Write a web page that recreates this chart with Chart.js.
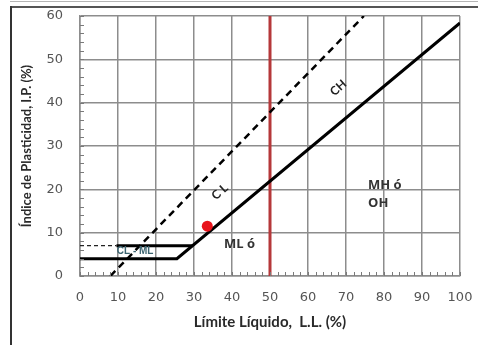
<!DOCTYPE html>
<html>
<head>
<meta charset="utf-8">
<script src="https://cdn.jsdelivr.net/npm/chart.js@4.4.1/dist/chart.umd.min.js"></script>
<style>
  body { margin: 0; background: #fff; }
  #wrap { position: relative; width: 478px; height: 345px; overflow: hidden; }
  .ln { position: absolute; }
</style>
</head>
<body>
<div id="wrap">
  <canvas id="myChart" width="478" height="345"></canvas>
  <div class="ln" style="left:10px;top:1px;width:468px;height:1px;background:#b5b5b5"></div>
  <div class="ln" style="left:10px;top:6px;width:468px;height:2px;background:#555"></div>
  <div class="ln" style="left:10px;top:6px;width:2px;height:339px;background:#333"></div>
</div>
<script>
// línea A: IP = 0.73 (LL - 20), con tramo horizontal IP = 4
const aLineLL = [0, 25.5, 100];
const aLineIP = [4, 4, 58.4];

// tramo horizontal IP = 7 (zona CL - ML)
const topLL = [9.6, 29.6];
const topIP = [7, 7];
const topDashLL = [0, 9.6];
const topDashIP = [7, 7];

// línea U: IP = 0.9 (LL - 8)
const uLineLL = [8, 74.7];
const uLineIP = [0, 60];

// límite líquido = 50
const llFiftyLL = [50, 50];
const llFiftyIP = [0, 60];

// muestra
const sampleLL = [33.5];
const sampleIP = [11.5];

const xTicks = [0, 10, 20, 30, 40, 50, 60, 70, 80, 90, 100];
const yTicks = [0, 10, 20, 30, 40, 50, 60];

const zoneText = ['CH', 'CL', 'CL - ML', 'ML ó', 'MH ó', 'OH'];
const zoneLL = [68, 36.8, 14.5, 42, 75.8, 75.8];
const zoneIP = [43.4, 19.4, 5.8, 7.3, 21, 16.8];

const pts = (xs, ys) => xs.map((x, i) => ({ x: x, y: ys[i] }));

const ctx = document.querySelector('#myChart');

const minorTicks = {
  id: 'minorTicks',
  afterDatasetsDraw(chart) {
    const c = chart.ctx;
    const xs = chart.scales.x;
    const ys = chart.scales.y;
    c.save();
    c.strokeStyle = '#7a7a7a';
    c.lineWidth = 1;
    c.beginPath();
    for (let v = 0; v <= 100; v += 2) {
      const px = Math.round(xs.getPixelForValue(v)) + 0.5;
      c.moveTo(px, ys.bottom);
      c.lineTo(px, ys.bottom - 4);
    }
    for (let v = 0; v <= 60; v += 2) {
      const py = Math.round(ys.getPixelForValue(v)) + 0.5;
      c.moveTo(xs.left, py);
      c.lineTo(xs.left + 4, py);
    }
    c.stroke();
    c.restore();
  }
};

const zoneLabels = {
  id: 'zoneLabels',
  afterDatasetsDraw(chart) {
    const c = chart.ctx;
    const xs = chart.scales.x;
    const ys = chart.scales.y;
    c.save();
    zoneText.forEach((t, i) => {
      const px = xs.getPixelForValue(zoneLL[i]);
      const py = ys.getPixelForValue(zoneIP[i]);
      c.save();
      c.translate(px, py);
      c.textBaseline = 'middle';
      if (t === 'CH' || t === 'CL') {
        c.rotate(-42 * Math.PI / 180);
        c.textAlign = 'center';
        c.font = 'bold 12px Lato';
        c.fillStyle = '#222';
        c.fillText(t === 'CL' ? 'C L' : t, 0, 0);
      } else if (t === 'CL - ML') {
        c.textAlign = 'center';
        c.font = 'bold 10px "Liberation Sans"';
        c.fillStyle = '#3c6470';
        c.fillText(t, 0, 0);
      } else if (t === 'ML ó') {
        c.textAlign = 'center';
        c.font = 'bold 13px "Open Sans"';
        c.fillStyle = '#333';
        c.fillText(t, 0, 0);
      } else {
        c.textAlign = 'left';
        c.font = 'bold 13px "Open Sans"';
        c.fillStyle = '#333';
        c.fillText(t, 0, 0);
      }
      c.restore();
    });
    c.restore();
  }
};

// sin relleno extra por las etiquetas de los extremos
const noPad = (s) => {
  s.paddingLeft = 0;
  s.paddingRight = 0;
  s.paddingTop = 0;
  s.paddingBottom = 0;
};

const config = {
  type: 'scatter',
  data: {
    datasets: [
      {
        label: 'Muestra',
        data: pts(sampleLL, sampleIP),
        pointRadius: 5.5,
        pointBackgroundColor: '#e8141c',
        pointBorderWidth: 0,
        showLine: false
      },
      {
        label: 'Línea A',
        data: pts(aLineLL, aLineIP),
        showLine: true,
        borderColor: '#000',
        borderWidth: 3,
        pointRadius: 0
      },
      {
        label: 'IP 7',
        data: pts(topLL, topIP),
        showLine: true,
        borderColor: '#000',
        borderWidth: 3,
        pointRadius: 0
      },
      {
        label: 'IP 7 trazos',
        data: pts(topDashLL, topDashIP),
        showLine: true,
        borderColor: '#222',
        borderWidth: 1.3,
        borderDash: [4, 3],
        pointRadius: 0
      },
      {
        label: 'Línea U',
        data: pts(uLineLL, uLineIP),
        showLine: true,
        borderColor: '#000',
        borderWidth: 2.5,
        borderDash: [7, 5],
        pointRadius: 0
      },
      {
        label: 'LL 50',
        data: pts(llFiftyLL, llFiftyIP),
        showLine: true,
        borderColor: '#b5383a',
        borderWidth: 3,
        pointRadius: 0
      }
    ]
  },
  options: {
    responsive: false,
    animation: false,
    layout: { padding: { left: 0, top: 16, right: 18, bottom: 0 } },
    plugins: {
      legend: { display: false },
      tooltip: { enabled: false }
    },
    scales: {
      x: {
        type: 'linear',
        min: 0,
        max: 100,
        afterFit: (s) => { s.height = 69; noPad(s); },
        afterBuildTicks: (s) => { s.ticks = xTicks.map(v => ({ value: v })); },
        grid: { color: '#8d8d8d', lineWidth: 1.5, drawTicks: false },
        border: { color: '#8d8d8d', width: 1.5 },
        ticks: {
          padding: 14,
          color: '#555',
          font: { family: 'DejaVu Sans', size: 13 }
        },
        title: {
          display: true,
          text: 'Límite Líquido,  L.L. (%)',
          color: '#2a2a2a',
          font: { family: 'Lato', weight: 'bold', size: 15 },
          padding: { top: 0, bottom: 14 }
        }
      },
      y: {
        type: 'linear',
        min: 0,
        max: 60,
        afterFit: (s) => { s.width = 80; noPad(s); },
        afterBuildTicks: (s) => { s.ticks = yTicks.map(v => ({ value: v })); },
        grid: { color: '#8d8d8d', lineWidth: 1.5, drawTicks: false },
        border: { color: '#8d8d8d', width: 1.5 },
        ticks: {
          padding: 17,
          color: '#555',
          font: { family: 'DejaVu Sans', size: 13 }
        },
        title: {
          display: true,
          text: 'Índice de Plasticidad, I.P. (%)',
          color: '#2a2a2a',
          font: { family: 'Lato', weight: 'bold', size: 13 },
          padding: { top: 19, bottom: 0 }
        }
      }
    }
  },
  plugins: [minorTicks, zoneLabels]
};

const chart = new Chart(ctx, config);
</script>
</body>
</html>
